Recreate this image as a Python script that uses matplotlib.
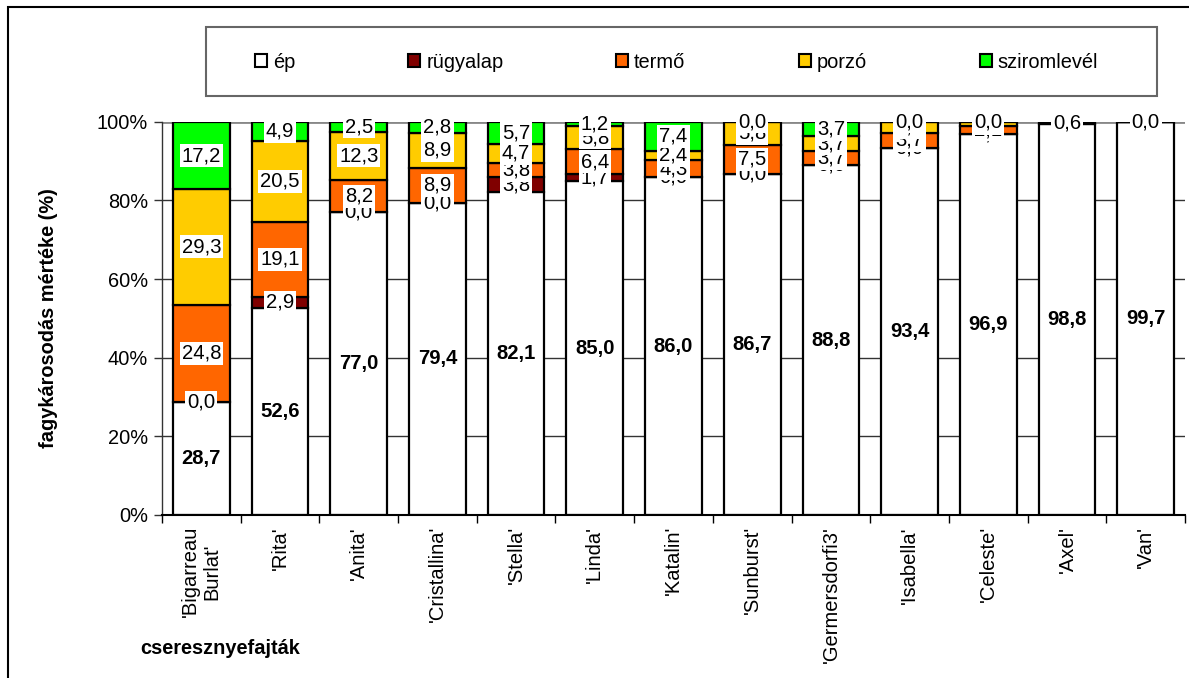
import numpy as np
import matplotlib
matplotlib.use("Agg")
import matplotlib.pyplot as plt
from matplotlib.patches import Patch, Rectangle

plt.rcParams['font.family'] = ['Liberation Sans', 'DejaVu Sans']

categories = ["'Bigarreau\nBurlat'", "'Rita'", "'Anita'", "'Cristallina'", "'Stella'",
              "'Linda'", "'Katalin'", "'Sunburst'", "'Germersdorfi3'", "'Isabella'",
              "'Celeste'", "'Axel'", "'Van'"]
ep = [28.7, 52.6, 77.0, 79.4, 82.1, 85.0, 86.0, 86.7, 88.8, 93.4, 96.9, 98.8, 99.7]
rugyalap = [0.0, 2.9, 0.0, 0.0, 3.8, 1.7, 0.0, 0.0, 0.0, 0.0, 0.0, 0.6, 0.0]
termo = [24.8, 19.1, 8.2, 8.9, 3.8, 6.4, 4.3, 7.5, 3.7, 3.7, 2.1, np.nan, 0.0]
porzo = [29.3, 20.5, 12.3, 8.9, 4.7, 5.8, 2.4, 5.8, 3.7, 2.9, 1.0, np.nan, 0.0]
sziromlevel = [17.2, 4.9, 2.5, 2.8, 5.7, 1.2, 7.4, 0.0, 3.7, 0.0, 0.0, np.nan, 0.0]

series_names = ['ép', 'rügyalap', 'termő', 'porzó', 'sziromlevél']
series_colors = ['#FFFFFF', '#800000', '#FF6600', '#FFCC00', '#00FF00']
yticks = [0, 20, 40, 60, 80, 100]
ytick_labels = ['0%', '20%', '40%', '60%', '80%', '100%']

W, H = 1189, 678
fig = plt.figure(figsize=(W / 100, H / 100), dpi=100)
ax = fig.add_axes([162 / W, 1 - 515 / H, (1185 - 162) / W, (515 - 121.7) / H])

data = np.array([ep, rugyalap, termo, porzo, sziromlevel], dtype=float)
vals = np.nan_to_num(data)
totals = vals.sum(axis=0)
pct = vals / totals * 100

x = np.arange(len(categories))
bottom = np.zeros(len(categories))
bw = 0.72
for i, (name, col) in enumerate(zip(series_names, series_colors)):
    ax.bar(x, pct[i], bw, bottom=bottom, color=col, edgecolor='black',
           linewidth=1.6, label=name, zorder=2)
    centers = bottom + pct[i] / 2
    for j in range(len(categories)):
        v = data[i, j]
        if np.isnan(v):
            continue
        txt = f"{v:.1f}".replace('.', ',')
        if i == 0:
            ax.text(x[j], centers[j], txt, ha='center', va='center',
                    fontsize=14.6, fontweight='bold', zorder=5)
        else:
            ax.text(x[j], centers[j], txt, ha='center', va='center',
                    fontsize=14.6, zorder=5 + i,
                    bbox=dict(facecolor='white', edgecolor='none', pad=1.5))
    bottom = bottom + pct[i]

ax.set_xlim(-0.5, len(categories) - 0.5)
ax.set_ylim(0, 100)
ax.set_yticks(yticks)
ax.set_yticklabels(ytick_labels, fontsize=14.4)
ax.tick_params(axis='y', length=6, width=1, pad=4, color='#333333')

ax.set_xticks(x)
ax.set_xticklabels(categories, rotation=90, fontsize=14.5, va='top', ha='center',
                   multialignment='center')
ax.tick_params(axis='x', which='major', length=0, pad=8)
ax.set_xticks(np.arange(len(categories) + 1) - 0.5, minor=True)
ax.tick_params(axis='x', which='minor', length=6, width=1, direction='out')

for y in [20, 40, 60, 80]:
    ax.axhline(y, color='#333333', lw=1.0, zorder=0)
ax.axhline(100, color='#888888', lw=2.0, zorder=0)
ax.set_axisbelow(True)

for s in ['top', 'right']:
    ax.spines[s].set_visible(False)
ax.spines['left'].set_color('#333333')
ax.spines['left'].set_linewidth(1.0)
ax.spines['bottom'].set_linewidth(1.5)
ax.spines['bottom'].set_zorder(3)

ax.set_ylabel('fagykárosodás mértéke (%)', fontsize=14.4, fontweight='bold')
ax.yaxis.set_label_coords((58 - 162) / (1185 - 162), 0.5)

fig.text(220 / W, 1 - 648 / H, 'cseresznyefajták', fontsize=14.4,
         fontweight='bold', ha='center', va='center')

# outer chart border
fig.add_artist(Rectangle((8 / W, -0.05), 1.1, 1 - 7 / H + 0.05,
                         transform=fig.transFigure, fill=False,
                         edgecolor='black', linewidth=1.5))
# legend frame
fig.add_artist(Rectangle((206 / W, 1 - 96 / H), (1157 - 206) / W, (96 - 27) / H,
                         transform=fig.transFigure, fill=False,
                         edgecolor='#666666', linewidth=1.5))
handles = [Patch(facecolor=c, edgecolor='black', linewidth=1.5) for c in series_colors]
fig.legend(handles, series_names, loc='center', ncol=5,
           bbox_to_anchor=(((258 + 1095) / 2) / W, 1 - 62 / H),
           frameon=False, fontsize=14.4, handlelength=0.6, handleheight=0.6,
           handletextpad=0.3, columnspacing=5.65)

fig.savefig('out.png', dpi=100)
